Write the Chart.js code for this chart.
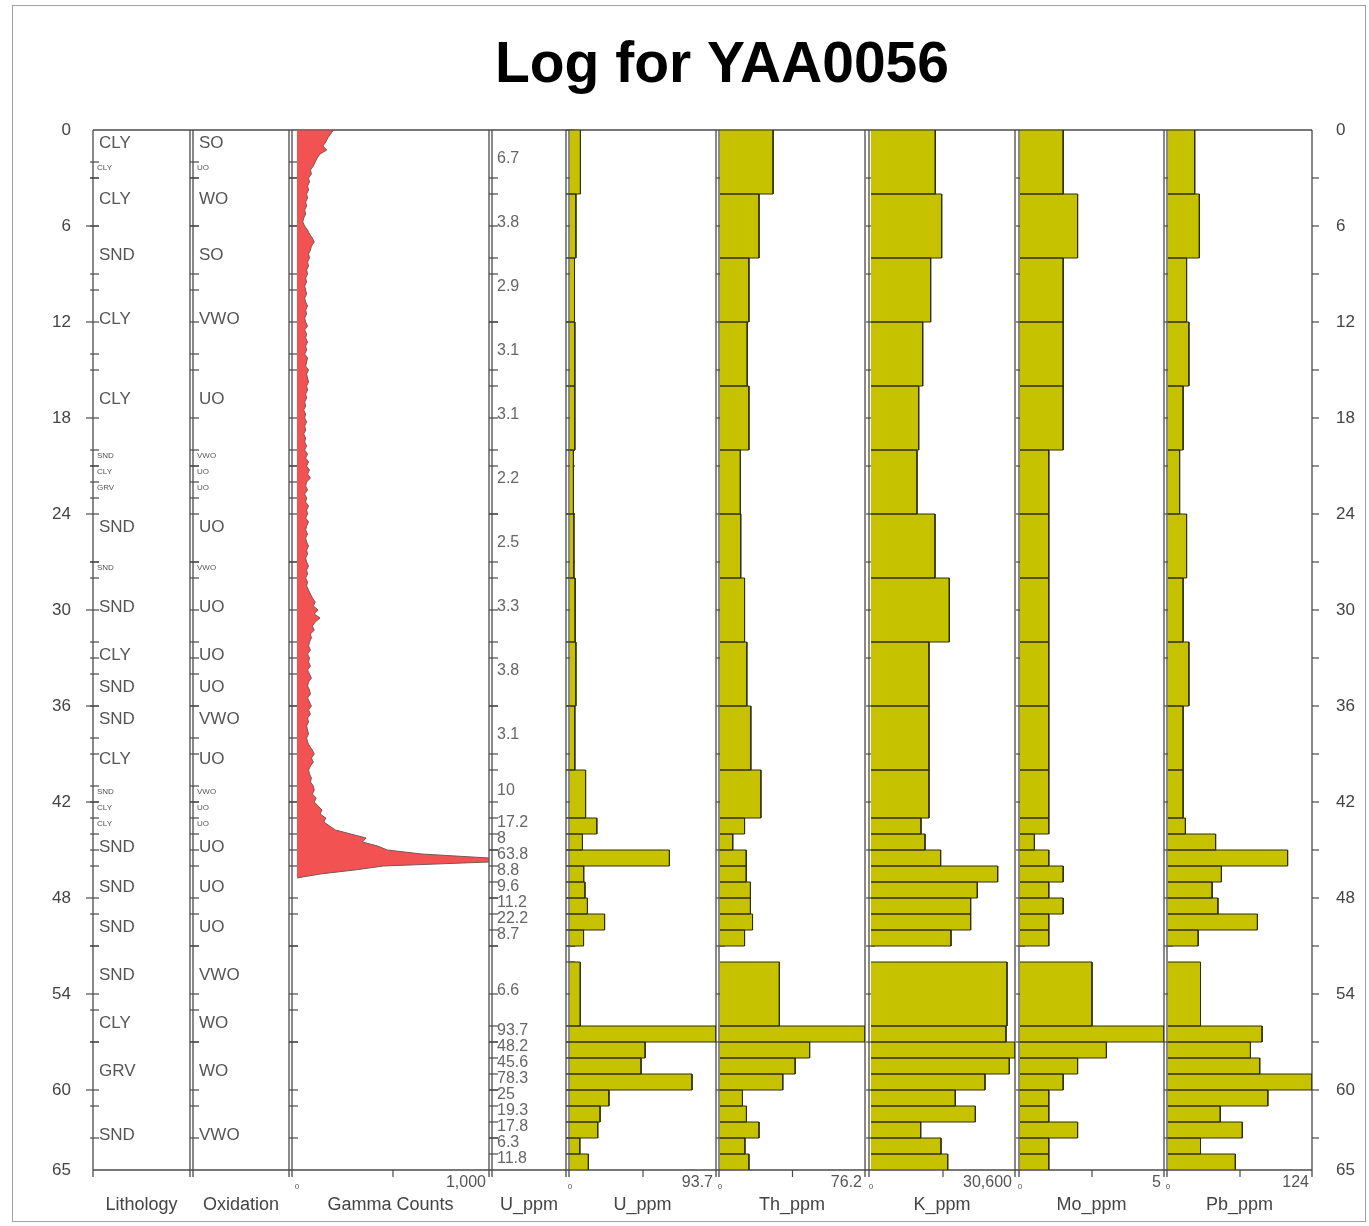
<!DOCTYPE html>
<html>
<head>
<meta charset="utf-8">
<script src="https://cdn.jsdelivr.net/npm/chart.js@4.4.0/dist/chart.umd.min.js"></script>
<style>
body { margin: 0; background: #fff; }
#wrap { position: relative; width: 1369px; height: 1226px; }
#wrap canvas { position: absolute; }
</style>
</head>
<body>
<div id="wrap"><canvas id="frame" width="1369" height="1226" style="left:0;top:0"></canvas></div>
<script>
// lithology / oxidation intervals (m)
var lithTop  = [0, 2, 3, 6, 10, 14, 20, 21, 22, 23, 27, 28, 32, 34, 36, 38, 41, 42, 43, 44, 46, 49, 51, 55, 57, 61];
var lithBase = [2, 3, 6, 10, 14, 20, 21, 22, 23, 27, 28, 32, 34, 36, 38, 41, 42, 43, 44, 46, 49, 51, 55, 57, 61, 65];
var lithCode = ['CLY','CLY','CLY','SND','CLY','CLY','SND','CLY','GRV','SND','SND','SND','CLY','SND','SND','CLY','SND','CLY','CLY','SND','SND','SND','SND','CLY','GRV','SND'];
var oxCode   = ['SO','UO','WO','SO','VWO','UO','VWO','UO','UO','UO','VWO','UO','UO','UO','VWO','UO','VWO','UO','UO','UO','UO','UO','VWO','WO','WO','VWO'];

// assay sample intervals (m)
var sampleTop  = [0, 4, 8, 12, 16, 20, 24, 28, 32, 36, 40, 43, 44, 45, 46, 47, 48, 49, 50, 52, 56, 57, 58, 59, 60, 61, 62, 63, 64];
var sampleBase = [4, 8, 12, 16, 20, 24, 28, 32, 36, 40, 43, 44, 45, 46, 47, 48, 49, 50, 51, 56, 57, 58, 59, 60, 61, 62, 63, 64, 65];

var uPpm  = [6.7, 3.8, 2.9, 3.1, 3.1, 2.2, 2.5, 3.3, 3.8, 3.1, 10, 17.2, 8, 63.8, 8.8, 9.6, 11.2, 22.2, 8.7, 6.6, 93.7, 48.2, 45.6, 78.3, 25, 19.3, 17.8, 6.3, 11.8];
var thPpm = [27.9, 20.5, 15.2, 14.3, 15.2, 10.7, 10.9, 12.9, 14.1, 16.2, 21.5, 12.9, 6.7, 13.8, 13.8, 16.0, 16.0, 17.1, 12.9, 31.2, 76.2, 47.1, 39.5, 33.0, 11.8, 13.9, 20.5, 13.1, 15.2];
var kPpm  = [13660, 15020, 12680, 10990, 10140, 9780, 13600, 16640, 12330, 12330, 12330, 10630, 11480, 14800, 26920, 22590, 21180, 21180, 17000, 28900, 28690, 30600, 29390, 24230, 17910, 22170, 10560, 14880, 16300];
var moPpm = [1.5, 2.0, 1.5, 1.5, 1.5, 1.0, 1.0, 1.0, 1.0, 1.0, 1.0, 1.0, 0.5, 1.0, 1.5, 1.0, 1.5, 1.0, 1.0, 2.5, 5, 3.0, 2.0, 1.5, 1.0, 1.0, 2.0, 1.0, 1.0];
var pbPpm = [23, 27, 16, 18, 13, 10, 16, 13, 18, 13, 13, 15, 41, 103, 46, 38, 43, 77, 26, 28, 81, 71, 79, 124, 86, 45, 64, 28, 58];

// gamma log
var gammaDepth = [
  0, 0.25, 0.5, 0.75, 1, 1.25, 1.5, 1.75,
  2, 2.25, 2.5, 2.75, 3, 3.25, 3.5, 3.75,
  4, 4.25, 4.5, 4.75, 5, 5.25, 5.5, 5.75,
  6, 6.25, 6.5, 6.75, 7, 7.25, 7.5, 7.75,
  8, 8.25, 8.5, 8.75, 9, 9.25, 9.5, 9.75,
  10, 10.25, 10.5, 10.75, 11, 11.25, 11.5, 11.75,
  12, 12.25, 12.5, 12.75, 13, 13.25, 13.5, 13.75,
  14, 14.25, 14.5, 14.75, 15, 15.25, 15.5, 15.75,
  16, 16.25, 16.5, 16.75, 17, 17.25, 17.5, 17.75,
  18, 18.25, 18.5, 18.75, 19, 19.25, 19.5, 19.75,
  20, 20.25, 20.5, 20.75, 21, 21.25, 21.5, 21.75,
  22, 22.25, 22.5, 22.75, 23, 23.25, 23.5, 23.75,
  24, 24.25, 24.5, 24.75, 25, 25.25, 25.5, 25.75,
  26, 26.25, 26.5, 26.75, 27, 27.25, 27.5, 27.75,
  28, 28.25, 28.5, 28.75, 29, 29.25, 29.5, 29.75,
  30, 30.25, 30.5, 30.75, 31, 31.25, 31.5, 31.75,
  32, 32.25, 32.5, 32.75, 33, 33.25, 33.5, 33.75,
  34, 34.25, 34.5, 34.75, 35, 35.25, 35.5, 35.75,
  36, 36.25, 36.5, 36.75, 37, 37.25, 37.5, 37.75,
  38, 38.25, 38.5, 38.75, 39, 39.25, 39.5, 39.75,
  40, 40.25, 40.5, 40.75, 41, 41.25, 41.5, 41.75,
  42, 42.25, 42.5, 42.75, 43, 43.25, 43.5, 43.75,
  44, 44.25, 44.5, 44.75, 45, 45.25, 45.5, 45.75,
  46, 46.25, 46.5, 46.75
];
var gammaCount = [
  190, 175, 160, 150, 135, 155, 120, 105,
  95, 85, 70, 75, 60, 65, 55, 60,
  50, 55, 45, 50, 40, 45, 35, 30,
  40, 55, 65, 80, 90, 75, 70, 60,
  65, 55, 60, 50, 55, 45, 50, 40,
  45, 50, 40, 45, 55, 45, 50, 40,
  45, 55, 40, 50, 45, 55, 45, 50,
  40, 55, 50, 45, 60, 50, 55, 60,
  50, 55, 45, 50, 40, 45, 35, 45,
  40, 50, 40, 45, 35, 45, 40, 50,
  40, 55, 45, 60, 50, 65, 55, 70,
  50, 45, 55, 40, 50, 45, 60, 50,
  55, 45, 60, 50, 45, 55, 45, 50,
  60, 50, 55, 45, 50, 60, 50, 55,
  45, 55, 50, 60, 70, 80, 95, 85,
  110, 90, 120, 95, 80, 90, 70, 75,
  65, 60, 70, 55, 65, 60, 70, 55,
  65, 75, 60, 55, 65, 70, 55, 65,
  75, 60, 70, 55, 60, 50, 55, 60,
  50, 55, 65, 80, 90, 75, 85, 70,
  60, 65, 75, 70, 85, 90, 80, 100,
  90, 110, 130, 120, 150, 140, 170, 200,
  280, 360, 340, 420, 470, 650, 1000, 1000,
  450, 300, 120, 0
];

var depthMax = 65;
var trackTitles = ['Lithology', 'Oxidation', 'Gamma Counts', 'U_ppm', 'U_ppm', 'Th_ppm', 'K_ppm', 'Mo_ppm', 'Pb_ppm'];
var scaleMax = [null, null, 1000, null, 93.7, 76.2, 30600, 5, 124];

// page layout of the tracks (line positions, data zero)
var tracks = [
  {l: 93, r: 190},
  {l: 193, r: 289},
  {l: 292, r: 489, z: 297},
  {l: 492, r: 566},
  {l: 569, r: 716, z: 570},
  {l: 719, r: 865, z: 720},
  {l: 869, r: 1015, z: 871},
  {l: 1019, r: 1164, z: 1020},
  {l: 1167, r: 1312, z: 1168}
];

Chart.defaults.font.family = '"Liberation Sans", Arial, Helvetica, sans-serif';

function seg(ctx, x1, y1, x2, y2) {
  ctx.beginPath(); ctx.moveTo(x1, y1); ctx.lineTo(x2, y2); ctx.stroke();
}

var decor = {
  id: 'decor',
  afterDraw: function(chart) {
    var ctx = chart.ctx, ys = chart.scales.y, area = chart.chartArea;
    var py = function(d) { return ys.getPixelForValue(d); };
    var i, k, t;
    ctx.save();

    ctx.strokeStyle = '#a0a0a0'; ctx.lineWidth = 1;
    ctx.strokeRect(12.5, 5.5, 1353, 1216);

    ctx.fillStyle = '#000';
    ctx.font = 'bold 57px "Liberation Sans", Arial, sans-serif';
    ctx.textAlign = 'center'; ctx.textBaseline = 'alphabetic';
    ctx.fillText('Log for YAA0056', 722, 82);

    ctx.strokeStyle = '#4a4a4a'; ctx.lineWidth = 1.5;
    seg(ctx, area.left, area.top, area.right, area.top);
    seg(ctx, area.left, area.bottom, area.right, area.bottom);

    // track borders + ticks
    for (i = 0; i < tracks.length; i++) {
      t = tracks[i];
      ctx.lineWidth = 1.3;
      seg(ctx, t.l, area.top, t.l, area.bottom + 7);
      seg(ctx, t.r, area.top, t.r, area.bottom + 7);
      ctx.lineWidth = 1.2;
      for (k = 3; k < depthMax; k += 3) {
        seg(ctx, t.l - (i === 0 && k % 6 === 0 ? 7 : 3), py(k), t.l + 6, py(k));
      }
      var bounds = i <= 2 ? lithBase : (i <= 4 ? sampleBase : []);
      for (k = 0; k < bounds.length - 1; k++) {
        seg(ctx, t.l - 3, py(bounds[k]), t.l + 6, py(bounds[k]));
      }
      if (i === 4) {
        for (k = 0; k < sampleTop.length; k++) seg(ctx, t.l - 3, py(sampleTop[k]), t.l + 6, py(sampleTop[k]));
      }
    }
    for (k = 3; k < depthMax; k += 3) seg(ctx, area.right, py(k), area.right + 7, py(k));

    // lithology and oxidation codes
    ctx.fillStyle = '#555'; ctx.textAlign = 'left';
    for (i = 0; i < lithTop.length; i++) {
      var small = lithBase[i] - lithTop[i] < 1.5;
      if (small) {
        ctx.font = '8px "Liberation Sans", Arial, sans-serif';
        ctx.textBaseline = 'top';
        ctx.fillText(lithCode[i], tracks[0].l + 4, py(lithTop[i]) + 2);
        ctx.fillText(oxCode[i], tracks[1].l + 4, py(lithTop[i]) + 2);
      } else {
        ctx.font = '17px "Liberation Sans", Arial, sans-serif';
        ctx.textBaseline = 'middle';
        var ym = py((lithTop[i] + lithBase[i]) / 2) - 3;
        ctx.fillText(lithCode[i], tracks[0].l + 6, ym);
        ctx.fillText(oxCode[i], tracks[1].l + 6, ym);
      }
    }

    // U value column
    ctx.font = '16px "Liberation Sans", Arial, sans-serif';
    ctx.fillStyle = '#666'; ctx.textBaseline = 'middle';
    for (i = 0; i < uPpm.length; i++) {
      ctx.fillText(String(uPpm[i]), tracks[3].l + 5, py((sampleTop[i] + sampleBase[i]) / 2) - 3);
    }

    // bottom scale labels and titles
    for (i = 0; i < tracks.length; i++) {
      t = tracks[i];
      if (scaleMax[i] !== null) {
        ctx.strokeStyle = '#4a4a4a'; ctx.lineWidth = 1.2;
        seg(ctx, (t.z + t.r) / 2, area.bottom, (t.z + t.r) / 2, area.bottom + 7);
        ctx.fillStyle = '#555'; ctx.textAlign = 'center';
        ctx.font = '8px "Liberation Sans", Arial, sans-serif';
        ctx.fillText('0', t.z, area.bottom + 17);
        ctx.textAlign = 'right';
        ctx.font = '16px "Liberation Sans", Arial, sans-serif';
        ctx.fillText(scaleMax[i].toLocaleString('en-US'), t.r - 3, area.bottom + 13);
      }
      ctx.fillStyle = '#444'; ctx.textAlign = 'center';
      ctx.font = '18px "Liberation Sans", Arial, sans-serif';
      ctx.fillText(trackTitles[i], (t.l + t.r) / 2, area.bottom + 35);
    }
    ctx.restore();
  }
};

var depthAxis = function(pos, pad, w) {
  return {
    type: 'linear', position: pos, axis: 'y', min: 0, max: depthMax, reverse: true,
    grid: {display: false}, border: {display: false},
    ticks: {stepSize: 6, color: '#444', padding: pad, font: {size: 17}},
    afterFit: function(s) { s.width = w; }
  };
};

var frame = new Chart(document.getElementById('frame'), {
  type: 'scatter',
  data: {datasets: []},
  options: {
    responsive: false, animation: false, devicePixelRatio: 1, events: [],
    layout: {padding: {top: 130, bottom: 56, left: 0, right: 0}},
    scales: {
      x: {type: 'linear', display: false, min: 0, max: 1},
      y: depthAxis('left', 14, 93),
      y2: depthAxis('right', 16, 57)
    },
    plugins: {legend: {display: false}, tooltip: {enabled: false}}
  },
  plugins: [decor]
});

function barPoints(values) {
  var pts = [];
  for (var i = 0; i < values.length; i++) {
    pts.push({x: 0, y: sampleTop[i]});
    pts.push({x: values[i], y: sampleTop[i]});
    pts.push({x: values[i], y: sampleBase[i]});
    pts.push({x: 0, y: sampleBase[i]});
    pts.push({x: null, y: sampleBase[i]});
  }
  return pts;
}

function makeTrack(t, points, max, fillColor, lineColor) {
  var area = frame.chartArea;
  var c = document.createElement('canvas');
  c.width = t.r - t.z;
  c.height = area.bottom - area.top;
  c.style.left = t.z + 'px';
  c.style.top = area.top + 'px';
  document.getElementById('wrap').appendChild(c);
  return new Chart(c, {
    type: 'line',
    data: {datasets: [{
      data: points, fill: 'shape', backgroundColor: fillColor, borderColor: lineColor,
      borderWidth: 1, pointRadius: 0, tension: 0
    }]},
    options: {
      indexAxis: 'y', responsive: false, animation: false, devicePixelRatio: 1, events: [],
      layout: {padding: 0},
      scales: {
        x: {type: 'linear', min: 0, max: max, display: false},
        y: {type: 'linear', min: 0, max: depthMax, reverse: true, display: false}
      },
      plugins: {legend: {display: false}, tooltip: {enabled: false}}
    }
  });
}

var gammaPts = [{x: 0, y: gammaDepth[0]}];
for (var g = 0; g < gammaDepth.length; g++) gammaPts.push({x: gammaCount[g], y: gammaDepth[g]});

var barFill = '#c6c200', barLine = '#2f2f0a';
makeTrack(tracks[2], gammaPts, scaleMax[2], '#f25252', '#7a5656');
makeTrack(tracks[4], barPoints(uPpm), scaleMax[4], barFill, barLine);
makeTrack(tracks[5], barPoints(thPpm), scaleMax[5], barFill, barLine);
makeTrack(tracks[6], barPoints(kPpm), scaleMax[6], barFill, barLine);
makeTrack(tracks[7], barPoints(moPpm), scaleMax[7], barFill, barLine);
makeTrack(tracks[8], barPoints(pbPpm), scaleMax[8], barFill, barLine);
</script>
</body>
</html>
